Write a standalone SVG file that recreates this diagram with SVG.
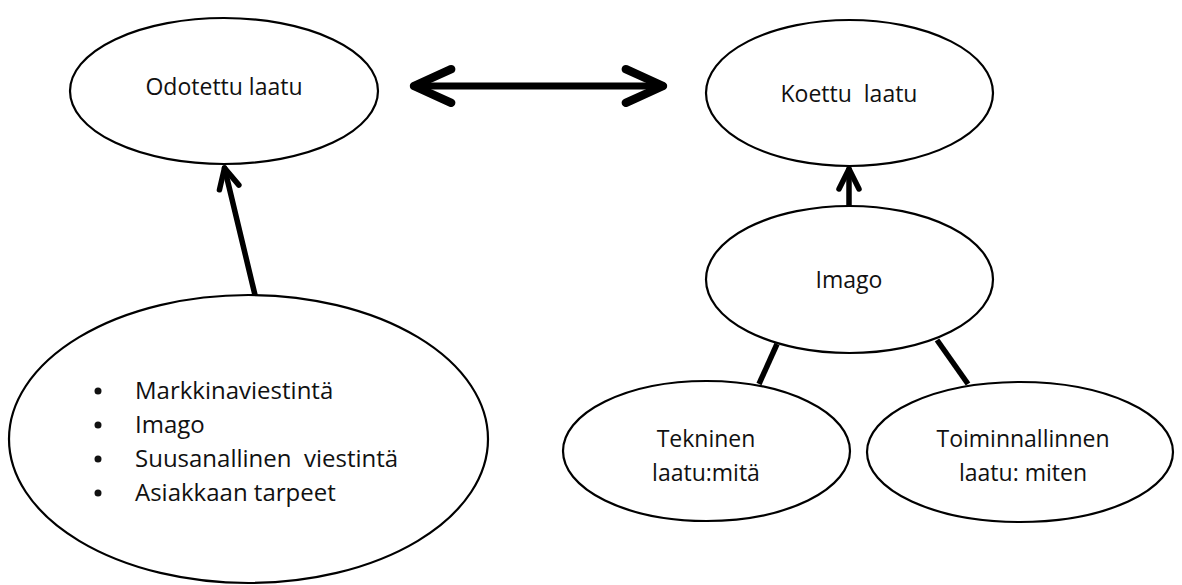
<svg xmlns="http://www.w3.org/2000/svg" width="1182" height="585" viewBox="0 0 1182 585">
<style>
.node ellipse{fill:#fff;stroke:#000;stroke-width:2.2}
text{font-family:"Open Sans","Liberation Sans",sans-serif;fill:#111;text-anchor:middle}
.t{font-size:23px}
.b{font-size:24px;text-anchor:start}
.conn{stroke:#000;fill:none;stroke-linecap:round;stroke-linejoin:round}
</style>
<defs>
<marker id="headBig" markerUnits="userSpaceOnUse" orient="auto-start-reverse" refX="0" refY="0" markerWidth="60" markerHeight="60" viewBox="-40 -25 50 50" overflow="visible">
<path d="M -31 -14 L 0 0 L -31 14" fill="none" stroke="#000" stroke-width="7" stroke-linecap="round" stroke-linejoin="round"/>
</marker>
<marker id="headSmall" markerUnits="userSpaceOnUse" orient="auto" refX="0" refY="0" markerWidth="40" markerHeight="40" viewBox="-30 -20 40 40" overflow="visible">
<path d="M -20 -10 L 0 0 L -20 10" fill="none" stroke="#000" stroke-width="5.5" stroke-linecap="round" stroke-linejoin="round"/>
</marker>
</defs>
<rect width="1182" height="585" fill="#fff"/>
<g id="connectors">
<line class="conn" x1="414" y1="86" x2="663" y2="86" stroke-width="7" marker-start="url(#headBig)" marker-end="url(#headBig)"/>
<line class="conn" x1="255" y1="295" x2="224.5" y2="168" stroke-width="5.5" marker-end="url(#headSmall)"/>
<line class="conn" x1="849" y1="206" x2="849" y2="169" stroke-width="5.5" marker-end="url(#headSmall)"/>
<line class="conn" x1="777" y1="344" x2="759" y2="384" stroke-width="5.5" style="stroke-linecap:butt"/>
<line class="conn" x1="937" y1="340" x2="968" y2="384" stroke-width="5.5" style="stroke-linecap:butt"/>
</g>
<g id="odotettu" class="node">
<ellipse cx="224" cy="91" rx="154" ry="73"/>
<text class="t" x="224" y="95">Odotettu laatu</text>
</g>
<g id="koettu" class="node">
<ellipse cx="849.5" cy="93" rx="143.5" ry="73"/>
<text class="t" x="849" y="102" xml:space="preserve">Koettu  laatu</text>
</g>
<g id="imago" class="node">
<ellipse cx="849.5" cy="279.5" rx="143.5" ry="73.5"/>
<text class="t" x="849" y="288">Imago</text>
</g>
<g id="tekninen" class="node">
<ellipse cx="706.5" cy="451" rx="143.5" ry="70"/>
<text class="t" x="706" y="447">Tekninen</text>
<text class="t" x="706" y="481">laatu:mitä</text>
</g>
<g id="toiminnallinen" class="node">
<ellipse cx="1020" cy="452" rx="153" ry="70"/>
<text class="t" x="1023" y="447">Toiminnallinnen</text>
<text class="t" x="1023" y="481">laatu: miten</text>
</g>
<g id="tekijat" class="node">
<ellipse cx="248.5" cy="439" rx="239.5" ry="144"/>
<g fill="#111">
<circle cx="98" cy="391" r="3.5"/>
<circle cx="98" cy="425" r="3.5"/>
<circle cx="98" cy="459" r="3.5"/>
<circle cx="98" cy="493" r="3.5"/>
</g>
<text class="b" x="135" y="399">Markkinaviestintä</text>
<text class="b" x="135" y="433">Imago</text>
<text class="b" x="135" y="467" xml:space="preserve">Suusanallinen  viestintä</text>
<text class="b" x="135" y="501">Asiakkaan tarpeet</text>
</g>
</svg>
